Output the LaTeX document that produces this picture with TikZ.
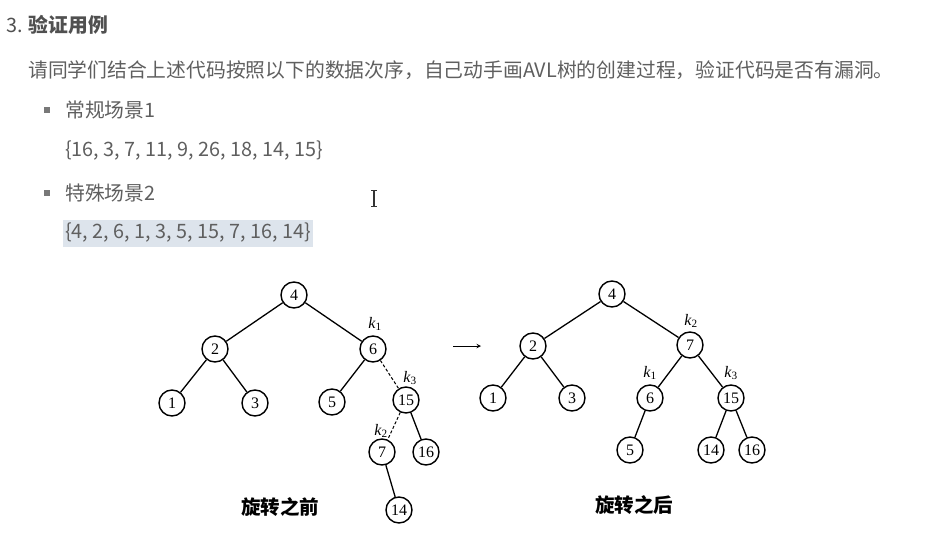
\documentclass[tikz,border=0pt]{standalone}
\usepackage{fontspec}
\usepackage{tikz}
\usetikzlibrary{shapes,arrows,positioning,calc}
\newfontfamily\cjk{Noto Sans CJK SC}
\newfontfamily\tnr{Liberation Serif}
\definecolor{textgray}{RGB}{95,95,95}
\definecolor{headgray}{RGB}{80,80,80}
\definecolor{bulletgray}{RGB}{120,120,120}
\definecolor{markblue}{RGB}{221,228,236}
\newcommand{\kk}[1]{{\itshape k}\textsubscript{#1}}

\begin{document}
\begin{tikzpicture}[
    x=1pt, y=-1pt,
    txt/.style={anchor=west, inner sep=0pt, text=textgray, font=\cjk\fontsize{19.8}{21}\selectfont},
    avl/.style={circle, draw=black, line width=1.4pt, minimum size=26pt, inner sep=0pt, font=\tnr\fontsize{16}{16}\selectfont},
    klabel/.style={inner sep=0pt, font=\tnr\fontsize{16}{16}\selectfont},
    caption/.style={inner sep=0pt, font=\cjk\bfseries\fontsize{19.5}{19.5}\selectfont},
    link/.style={line width=1.3pt},
    rotlink/.style={line width=1pt, densely dashed},
    arrow/.style={->, >=stealth, line width=1pt}
]
    \useasboundingbox[fill=white] (0,0) rectangle (938,546);

    % Heading and task text
    \node[txt, text=headgray] (head) at (6,25) {3. {\bfseries 验证用例}};
    \node[txt] (task) at (28,70) {请同学们结合上述代码按照以下的数据次序，自己动手画AVL树的创建过程，验证代码是否有漏洞。};

    % Scenario 1
    \node[fill=bulletgray, minimum size=6pt, inner sep=0pt] (dot1) at (47,110) {};
    \node[txt] (case1) at (65,110) {常规场景1};
    \node[txt] (seq1) at (65,151) {\{16, 3, 7, 11, 9, 26, 18, 14, 15\}};

    % Scenario 2
    \node[fill=bulletgray, minimum size=6pt, inner sep=0pt] (dot2) at (47,193) {};
    \node[txt] (case2) at (65,193) {特殊场景2};
    \node[txt, fill=markblue, inner xsep=2pt, minimum height=27pt] (seq2) at (63,233) {\{4, 2, 6, 1, 3, 5, 15, 7, 16, 14\}};

    % Text cursor
    \draw[line width=1.2pt, black!80] (374,190) -- (374,206);
    \draw[line width=0.8pt, black!80] (371,190) -- (377,190) (371,206) -- (377,206);

    % Before rotation
    \node[avl] (l4) at (294,295) {4};
    \node[avl] (l2) at (215,349) {2};
    \node[avl] (l6) at (373,349) {6};
    \node[avl] (l1) at (172,403) {1};
    \node[avl] (l3) at (255,403) {3};
    \node[avl] (l5) at (332,402) {5};
    \node[avl] (l15) at (406,400) {15};
    \node[avl] (l7) at (382,452) {7};
    \node[avl] (l16) at (426,452) {16};
    \node[avl] (l14) at (399,510) {14};
    \node[klabel] (lk1) at (375,324) {\kk{1}};
    \node[klabel] (lk3) at (410,378) {\kk{3}};
    \node[klabel] (lk2) at (381,431) {\kk{2}};
    \node[caption] (before) at (280,507) {旋转之前};

    \draw[link] (l4) -- (l2);
    \draw[link] (l4) -- (l6);
    \draw[link] (l2) -- (l1);
    \draw[link] (l2) -- (l3);
    \draw[link] (l6) -- (l5);
    \draw[rotlink] (l6) -- (l15);
    \draw[rotlink] (l15) -- (l7);
    \draw[link] (l15) -- (l16);
    \draw[link] (l7) -- (l14);

    % Rotation arrow
    \coordinate (turnS) at (453,346);
    \coordinate (turnE) at (481,346);
    \draw[arrow] (turnS) -- (turnE);

    % After rotation
    \node[avl] (r4) at (612,294) {4};
    \node[avl] (r2) at (533,346) {2};
    \node[avl] (r7) at (690,345) {7};
    \node[avl] (r1) at (493,398) {1};
    \node[avl] (r3) at (572,398) {3};
    \node[avl] (r6) at (650,398) {6};
    \node[avl] (r15) at (731,398) {15};
    \node[avl] (r5) at (630,450) {5};
    \node[avl] (r14) at (711,450) {14};
    \node[avl] (r16) at (752,450) {16};
    \node[klabel] (rk2) at (691,321) {\kk{2}};
    \node[klabel] (rk1) at (650,373) {\kk{1}};
    \node[klabel] (rk3) at (731,373) {\kk{3}};
    \node[caption] (after) at (634,505) {旋转之后};

    \draw[link] (r4) -- (r2);
    \draw[link] (r4) -- (r7);
    \draw[link] (r2) -- (r1);
    \draw[link] (r2) -- (r3);
    \draw[link] (r7) -- (r6);
    \draw[link] (r7) -- (r15);
    \draw[link] (r6) -- (r5);
    \draw[link] (r15) -- (r14);
    \draw[link] (r15) -- (r16);
\end{tikzpicture}
\end{document}
